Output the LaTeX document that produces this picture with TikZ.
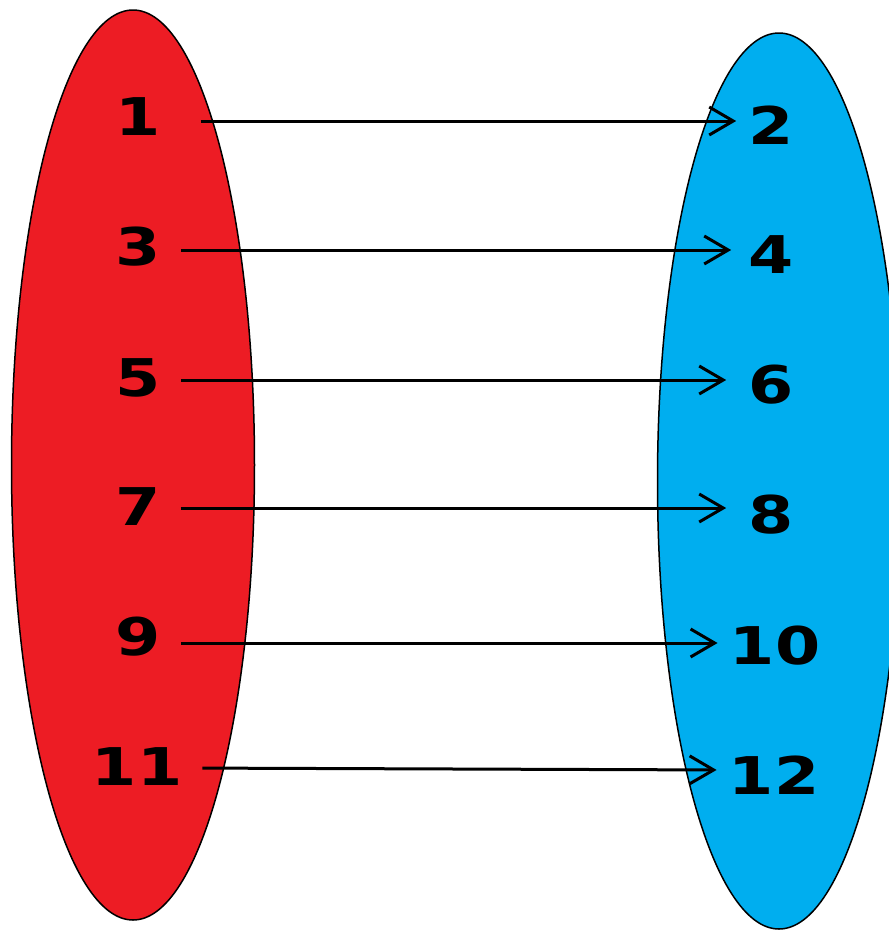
\documentclass[tikz,border=0pt]{standalone}
\usepackage{fontspec}
\setmainfont{DejaVu Sans}[FakeStretch=1.25]
\usetikzlibrary{shapes.geometric, arrows.meta, positioning}
\definecolor{setred}{RGB}{237, 28, 36}
\definecolor{setblue}{RGB}{0, 174, 239}
\tikzset{
  setnode/.style = {
    ellipse, draw=black, line width=1.5pt,
    fill=#1, minimum width=243pt, inner sep=0pt
  },
  setnode/.default = setred,
  elem/.style = {
    font=\fontsize{52}{54}\selectfont\bfseries,
    inner sep=0pt
  },
  arr/.style = {
    -{Straight Barb[length=24pt, width=28pt]},
    draw=black, line width=3pt, shorten <=20pt, shorten >=12pt
  },
}

\begin{document}
\begin{tikzpicture}[x=1pt, y=-1pt]
  \useasboundingbox (0,0) rectangle (889,930);

  %% -- the two sets --------------------------------------------------------
  \node[setnode=setred, minimum height=910pt] (domain) at (133,465) {};
  \node[setnode=setblue, minimum height=896pt] (codomain) at (779,481) {};

  % domain elements
  \node[elem] (a1)  at (138,117) {1};
  \node[elem] (a3)  at (138,247) {3};
  \node[elem] (a5)  at (138,378) {5};
  \node[elem] (a7)  at (138,507) {7};
  \node[elem] (a9)  at (138,637) {9};
  \node[elem] (a11) at (137,767) {11};

  % codomain elements
  \node[elem] (b2)  at (771,125) {2};
  \node[elem] (b4)  at (771,255) {4};
  \node[elem] (b6)  at (771,385) {6};
  \node[elem] (b8)  at (771,515) {8};
  \node[elem] (b10) at (775,646) {10};
  \node[elem] (b12) at (774,775) {12};

  %% -- mapping arrows -------------------------------------------------------
  \draw[arr, shorten <=40pt] ([yshift=-4pt]a1.east) -- ([yshift=4pt]b2.west);
  \draw[arr, shorten >=17pt] ([yshift=-3pt]a3.east)  -- ([yshift=5pt]b4.west);
  \draw[arr, shorten >=22pt] ([yshift=-2pt]a5.east)  -- ([yshift=5pt]b6.west);
  \draw[arr, shorten >=22pt] ([yshift=-1pt]a7.east)  -- ([yshift=7pt]b8.west);
  \draw[arr] ([yshift=-6pt]a9.east)  -- ([yshift=3pt]b10.west);
  \draw[arr] ([yshift=-1pt]a11.east) -- ([yshift=5pt]b12.west);

\end{tikzpicture}
\end{document}
